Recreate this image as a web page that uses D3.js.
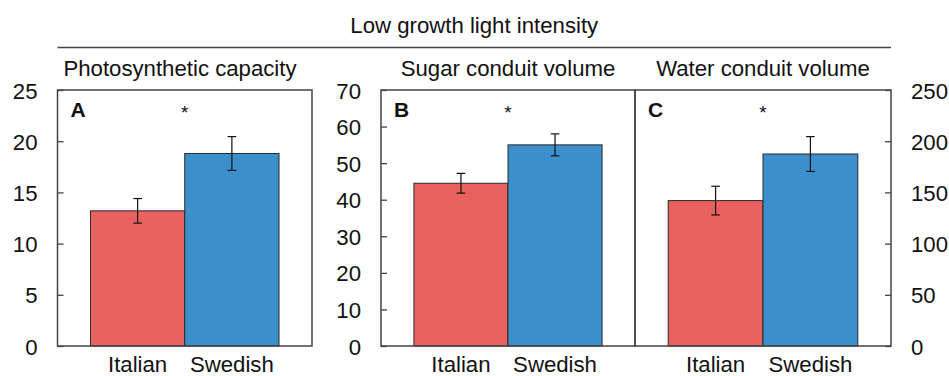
<!DOCTYPE html>
<html>
<head>
<meta charset="utf-8">
<script src="https://cdn.jsdelivr.net/npm/d3@7"></script>
<style>
  body { margin: 0; background: #fff; }
  svg text { font-family: "Liberation Sans", Arial, sans-serif; fill: #111; }
</style>
</head>
<body>
<div id="chart"></div>
<script>
const figureTitle = "Low growth light intensity";
const groups = ["Italian", "Swedish"];
const panelLetters = ["A", "B", "C"];
const panelTitles = ["Photosynthetic capacity", "Sugar conduit volume", "Water conduit volume"];
const meanA = [13.2, 18.8];
const errA = [1.2, 1.65];
const meanB = [44.5, 55.0];
const errB = [2.7, 3.0];
const meanC = [142, 187.5];
const errC = [14, 17];
const ticksA = [0, 5, 10, 15, 20, 25];
const ticksB = [0, 10, 20, 30, 40, 50, 60, 70];
const ticksC = [0, 50, 100, 150, 200, 250];
const significance = ["*", "*", "*"];

const colors = { Italian: "#e9625f", Swedish: "#3b8fca" };

const size = { width: 949, height: 376 };
const plotTop = 90, plotBottom = 346;
const fontSize = "22.2px";

const panels = [
  { x0: 57.5, x1: 312, means: meanA, errs: errA, ticks: ticksA, side: "left", titleX: 180 },
  { x0: 381, x1: 635, means: meanB, errs: errB, ticks: ticksB, side: "left", titleX: null },
  { x0: 635, x1: 891, means: meanC, errs: errC, ticks: ticksC, side: "right", titleX: null },
];

const svg = d3.select("#chart").append("svg")
  .attr("width", size.width)
  .attr("height", size.height);

// overall header
svg.append("text")
  .attr("x", (panels[0].x0 + panels[2].x1) / 2)
  .attr("y", 33)
  .attr("text-anchor", "middle")
  .style("font-size", fontSize)
  .text(figureTitle);

svg.append("line")
  .attr("x1", panels[0].x0).attr("x2", panels[2].x1)
  .attr("y1", 47.5).attr("y2", 47.5)
  .attr("stroke", "#444").attr("stroke-width", 1.3);

panels.forEach((p, i) => {
  const g = svg.append("g");
  const ticks = p.ticks;

  const x = d3.scaleBand()
    .domain(groups)
    .range([p.x0, p.x1])
    .paddingInner(0)
    .paddingOuter(0.35);

  const y = d3.scaleLinear()
    .domain([0, d3.max(ticks)])
    .range([plotBottom, plotTop]);

  // title
  g.append("text")
    .attr("x", p.titleX ?? (p.x0 + p.x1) / 2)
    .attr("y", 76)
    .attr("text-anchor", "middle")
    .style("font-size", fontSize)
    .text(panelTitles[i]);

  // bars
  g.selectAll(".bar")
    .data(groups)
    .enter()
    .append("rect")
    .attr("class", "bar")
    .attr("x", (d) => x(d))
    .attr("width", x.bandwidth())
    .attr("y", (d, j) => y(p.means[j]))
    .attr("height", (d, j) => y(0) - y(p.means[j]))
    .attr("fill", (d) => colors[d])
    .attr("stroke", "#2a2a2a")
    .attr("stroke-width", 1);

  // error bars
  const eb = g.selectAll(".err")
    .data(groups)
    .enter()
    .append("g")
    .attr("class", "err")
    .attr("stroke", "#111")
    .attr("stroke-width", 1.2);
  const cx = (d) => x(d) + x.bandwidth() / 2;
  eb.append("line")
    .attr("x1", cx).attr("x2", cx)
    .attr("y1", (d, j) => y(p.means[j] + p.errs[j]))
    .attr("y2", (d, j) => y(p.means[j] - p.errs[j]));
  eb.append("line")
    .attr("x1", (d) => cx(d) - 4.3).attr("x2", (d) => cx(d) + 4.3)
    .attr("y1", (d, j) => y(p.means[j] + p.errs[j]))
    .attr("y2", (d, j) => y(p.means[j] + p.errs[j]));
  eb.append("line")
    .attr("x1", (d) => cx(d) - 4.3).attr("x2", (d) => cx(d) + 4.3)
    .attr("y1", (d, j) => y(p.means[j] - p.errs[j]))
    .attr("y2", (d, j) => y(p.means[j] - p.errs[j]));

  // y axis, ticks pointing into the panel
  const axis = (p.side === "left" ? d3.axisLeft(y) : d3.axisRight(y))
    .tickValues(ticks)
    .tickSizeInner(-6)
    .tickSizeOuter(0)
    .tickPadding(20);
  const ax = g.append("g")
    .attr("transform", `translate(${p.side === "left" ? p.x0 : p.x1},0)`)
    .call(axis);
  ax.select(".domain").remove();
  ax.selectAll(".tick line").attr("stroke", "#444").attr("stroke-width", 1.3);
  ax.selectAll(".tick text")
    .style("font-size", fontSize)
    .style("font-family", "'Liberation Sans', Arial, sans-serif")
    .attr("fill", "#111")
    .attr("dy", "0.36em");

  // frame
  g.append("rect")
    .attr("x", p.x0).attr("y", plotTop)
    .attr("width", p.x1 - p.x0).attr("height", plotBottom - plotTop)
    .attr("fill", "none")
    .attr("stroke", "#444")
    .attr("stroke-width", 1.5);

  // panel letter
  g.append("text")
    .attr("x", p.x0 + 13)
    .attr("y", 117)
    .style("font-size", "21px")
    .style("font-weight", "bold")
    .text(panelLetters[i]);

  // significance mark
  g.append("text")
    .attr("x", x("Swedish"))
    .attr("y", 119)
    .attr("text-anchor", "middle")
    .style("font-size", "19px")
    .text(significance[i]);

  // category labels
  g.selectAll(".xlab")
    .data(groups)
    .enter()
    .append("text")
    .attr("class", "xlab")
    .attr("x", cx)
    .attr("y", 372)
    .attr("text-anchor", "middle")
    .style("font-size", fontSize)
    .text((d) => d);
});
</script>
</body>
</html>
